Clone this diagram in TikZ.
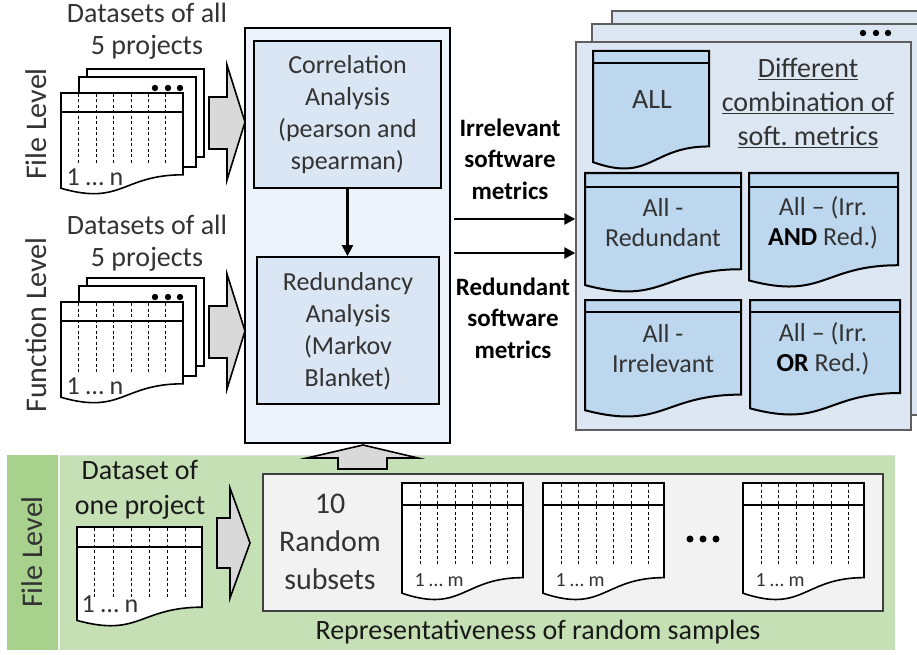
\documentclass[tikz,border=0pt]{standalone}
\usepackage{fontspec}
\setmainfont{Carlito}
\usetikzlibrary{arrows.meta}
\frenchspacing

\definecolor{txt}{HTML}{333333}
\definecolor{panelbg}{HTML}{EDF3FA}
\definecolor{boxbg}{HTML}{DAE6F3}
\definecolor{rightbg}{HTML}{DCE7F3}
\definecolor{rightline}{HTML}{5F5F5F}
\definecolor{docblue}{HTML}{BDD7EE}
\definecolor{bandgreen}{HTML}{C5E0B4}
\definecolor{stripgreen}{HTML}{A9D18E}
\definecolor{subsetbg}{HTML}{F2F2F2}
\definecolor{arrowgray}{HTML}{D9D9D9}

\newcommand{\fs}[2]{\fontsize{#1}{#2}\selectfont}
% document outline with a wavy bottom: style, left x, top y, right x, height
\newcommand{\docshape}[5]{%
  \path[#1] (#2,#3) -- (#4,#3) -- (#4,{#3+0.802*#5})
    .. controls ({(#2+#4)/2},{#3+0.802*#5}) and ({(#2+#4)/2},{#3+1.107*#5})
    .. (#2,{#3+0.934*#5}) -- cycle;}
% underline with a fixed offset and thickness
\newcommand{\uline}[1]{\setbox0\hbox{#1}\rlap{\rule[-3pt]{\wd0}{1.3pt}}\box0}

\begin{document}
\begin{tikzpicture}[x=1pt,y=-1pt,
  every node/.style={text=txt, inner sep=0pt},
  docw/.style={fill=white, draw=black, line width=1.6pt},
  docb/.style={fill=docblue, draw=black, line width=2pt},
  headline/.style={draw=black, line width=1.2pt},
  colline/.style={draw=black, line width=0.9pt, dash pattern=on 3pt off 2.5pt},
  blockarrow/.style={fill=arrowgray, draw=black, line width=1.6pt, line join=miter},
  lbl/.style={font=\fs{28}{32}, align=center},
  side/.style={font=\fs{30}{34}, rotate=90},
  boxtxt/.style={font=\fs{26}{32}, align=center},
  boldtxt/.style={font=\fs{25}{31.5}\bfseries, align=center, text=black},
  doctxt/.style={font=\fs{26}{30}, align=center},
  analysis/.style={draw=black, line width=1.8pt, fill=boxbg},
  conn/.style={draw=black, line width=2.4pt, -{Triangle[length=11pt,width=11pt]}},
  dot/.style={fill=black}]

\useasboundingbox (0,0) rectangle (917,655);

% ---------- left: dataset stacks ----------
\node[lbl] (dsfile) at (147,31) {Datasets of all\\5 projects};
\node[lbl] (dsfunc) at (147,243) {Datasets of all\\5 projects};
\node[side] (lvfile) at (36,124) {File Level};
\node[side] (lvfunc) at (36,325) {Function Level};

\foreach \sh/\nm in {0/file,209/func}{
  \begin{scope}[shift={(0,\sh)}]
    \draw[docw] (87,69) rectangle (204,157);
    \draw[docw] (79,77) rectangle (196,167);
    \foreach \dx in {155,168,180} \fill[dot] (\dx,88) circle (3.2);
    \docshape{docw}{61}{93}{183}{102}
    \draw[headline] (61,112) -- (183,112);
    \foreach \dx in {78,96,113,131,148,165} \draw[colline] (\dx,94) -- (\dx,163);
    \node[font=\fs{26}{30}] (idx\nm) at (95,177) {1 … n};
    \path[blockarrow] (209,97) -- (227,97) -- (227,65) -- (245,122) -- (227,180)
      -- (227,149) -- (209,149) -- cycle;
  \end{scope}
}

% ---------- centre: analysis steps ----------
\node[draw=black, line width=2pt, fill=panelbg, minimum width=205, minimum height=415]
  (core) at (347.5,235.5) {};
\node[analysis, minimum width=187, minimum height=147] (corr) at (347.5,114.5) {};
\node[boxtxt] (corrtxt) at (347.5,115) {Correlation\\Analysis\\(pearson and\\spearman)};
\node[analysis, minimum width=182, minimum height=147] (red) at (348,330.5) {};
\node[boxtxt] (redtxt) at (348,331) {Redundancy\\Analysis\\(Markov\\Blanket)};
\draw[conn] (corr.south) -- (corr.south |- red.north);

% ---------- right: metric combinations ----------
\draw[fill=rightbg, draw=rightline, line width=1.4pt] (612,11) rectangle (930,402);
\draw[fill=rightbg, draw=rightline, line width=1.4pt] (592,24) rectangle (930,415);
\foreach \dx in {863,876,888} \fill[dot] (\dx,33) circle (3.2);
\node[fill=rightbg, draw=rightline, line width=1.4pt, minimum width=335, minimum height=388]
  (panel) at (743.5,236) {};

\docshape{docb}{593}{51}{709}{119}
\draw[headline, line width=1.8pt] (593,63) -- (709,63);
\node[font=\fs{28}{32}] (all) at (652,100) {ALL};
\node[font=\fs{28}{34}, align=center] (combi) at (808,103)
  {\uline{Different}\\\uline{combination of}\\\uline{soft. metrics}};

\docshape{docb}{585}{173}{741}{120}
\draw[headline, line width=1.8pt] (585,187) -- (741,187);
\node[doctxt] (allred) at (663,223) {All -\\Redundant};
\docshape{docb}{749}{173}{898}{115}
\draw[headline, line width=1.8pt] (749,187) -- (898,187);
\node[doctxt] (alland) at (823,223) {All – (Irr.\\\textbf{\color{black}AND} Red.)};
\docshape{docb}{585}{300}{741}{118}
\draw[headline, line width=1.8pt] (585,312) -- (741,312);
\node[doctxt] (allirr) at (663,349) {All -\\Irrelevant};
\docshape{docb}{750}{300}{900}{116}
\draw[headline, line width=1.8pt] (750,312) -- (900,312);
\node[doctxt] (allor) at (823,349) {All – (Irr.\\\textbf{\color{black}OR} Red.)};

% ---------- connectors between centre and right ----------
\path ([yshift=16.5pt]core.east) coordinate (irrstart);
\path ([yshift=-17.5pt]core.east) coordinate (redstart);
\draw[conn, shorten <=3pt] (irrstart) -- (irrstart -| panel.west);
\draw[conn, shorten <=3pt] (redstart) -- (redstart -| panel.west);
\node[boldtxt] (irrlbl) at (510,159) {Irrelevant\\software\\metrics};
\node[boldtxt] (redlbl) at (513,318) {Redundant\\software\\metrics};

% ---------- bottom: random subsets ----------
\fill[bandgreen] (7,455) rectangle (895,650);
\draw[gray!25, line width=0.8pt] (7,650) -- (7,455) -- (895,455);
\fill[stripgreen] (7,455) rectangle (58,650);
\draw[white!70!bandgreen, line width=2pt] (59,455) -- (59,650);
\node[side] (lvbottom) at (32,552) {File Level};
\node[font=\fs{28}{35}, align=center, text=black!90] (onep) at (140,490) {Dataset of\\one project};

\docshape{docw}{77}{527}{202}{100}
\draw[headline] (77,547) -- (202,547);
\foreach \dx in {94,113,131,149,167,185} \draw[colline] (\dx,528) -- (\dx,597);
\node[font=\fs{26}{30}] (idxone) at (110,604) {1 … n};
\path[blockarrow] (217,518) -- (230,518) -- (230,488) -- (250,543) -- (230,598)
  -- (230,568) -- (217,568) -- cycle;

\node[fill=subsetbg, draw=black!75, line width=1.3pt, minimum width=620, minimum height=137]
  (subsets) at (573,542.5) {};
\node[font=\fs{30}{38}, align=center] (tenrand) at (330,542) {10\\Random\\subsets};
\foreach \xl/\nm in {402/a,543/b,743/c}{
  \docshape{docw}{\xl}{483}{\xl+121}{118}
  \draw[headline] (\xl,505) -- (\xl+121,505);
  \foreach \dx in {18,35.5,53,70.5,88,105.5} \draw[colline] (\xl+\dx,484) -- (\xl+\dx,566);
  \node[font=\fs{20}{24}] (sub\nm) at (\xl+37,580) {1 … m};
}
\foreach \dx in {690,703,716} \fill[dot] (\dx,539) circle (3.5);
\node[font=\fs{28}{32}, text=black!90] (repr) at (538,632) {Representativeness of random samples};

% upward block arrow from the subsets to the analysis panel
\path[blockarrow] (338,469) -- (338,458) -- (307,458) -- (363,445) -- (418,458)
  -- (387,458) -- (387,469) -- cycle;
\end{tikzpicture}
\end{document}
